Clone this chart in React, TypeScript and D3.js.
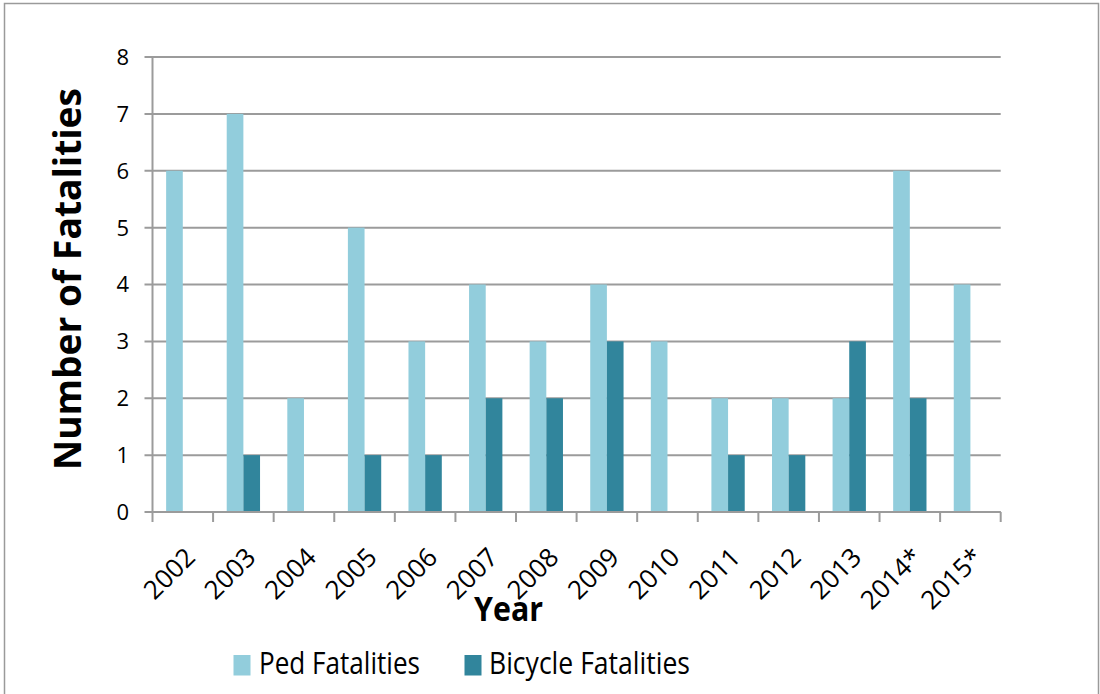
import React from "react";
import * as d3 from "d3";

const years = ["2002","2003","2004","2005","2006","2007","2008","2009","2010","2011","2012","2013","2014*","2015*"];
const pedFatalities = [6,7,2,5,3,4,3,4,3,2,2,2,6,4];
const bicycleFatalities = [0,1,0,1,1,2,2,3,0,1,1,3,2,0];
const seriesNames = ["Ped Fatalities","Bicycle Fatalities"];
const seriesColors = ["#92CDDC","#31859C"];
const yTicks = [0,1,2,3,4,5,6,7,8];

const FONT = "'Open Sans', 'Noto Sans', sans-serif";

export default function App() {
  const W = 1100, H = 694;
  const left = 152.5, right = 1000.7, top = 57, bottom = 512;
  const x0 = d3.scaleBand<string>().domain(years).range([left, right]).padding(0);
  const bw = x0.bandwidth();
  const x1 = d3.scaleBand<string>().domain(seriesNames).range([bw * 0.225, bw * 0.775]).padding(0);
  const y = d3.scaleLinear().domain([0, 8]).range([bottom, top]);
  const data = [pedFatalities, bicycleFatalities];

  return (
    <svg width={W} height={H} style={{ position: "absolute", left: 0, top: 0, display: "block" }}>
      <rect x={4.5} y={3.5} width={1094} height={700} fill="#fff" stroke="#9a9a9a" strokeWidth={1.5} />
      {yTicks.map(t => (
        <g key={"g" + t}>
          <line x1={left - 8} x2={right} y1={y(t)} y2={y(t)} stroke="#9b9b9b" strokeWidth={2} />
          <text x={129} y={y(t)} dy="0.36em" textAnchor="end" fontFamily={FONT} fontSize={22} fill="#000">{t}</text>
        </g>
      ))}
      <line x1={left} x2={left} y1={top} y2={bottom} stroke="#9b9b9b" strokeWidth={2} />
      {data.map((vals, si) =>
        vals.map((v, i) => v > 0 ? (
          <rect key={si + "-" + i}
            x={(x0(years[i]) as number) + (x1(seriesNames[si]) as number)}
            y={y(v)} width={x1.bandwidth()} height={y(0) - y(v)}
            fill={seriesColors[si]} />
        ) : null)
      )}
      <line x1={left} x2={right} y1={bottom} y2={bottom} stroke="#9b9b9b" strokeWidth={2} />
      {years.concat([""]).map((yr, i) => {
        const xx = left + i * bw;
        return <line key={"t" + i} x1={xx} x2={xx} y1={bottom} y2={bottom + 10} stroke="#9b9b9b" strokeWidth={2} />;
      })}
      {years.map((yr, i) => {
        const cx = (x0(yr) as number) + bw / 2 + 1;
        const cy = 546;
        return (
          <text key={"xl" + i} transform={`translate(${cx},${cy}) rotate(-45)`} textAnchor="end" dy="0.7em"
            fontFamily={FONT} fontSize={26} fill="#000">{yr}</text>
        );
      })}
      <text transform={`translate(81,279) rotate(-90)`} textAnchor="middle" fontFamily={FONT} fontWeight="bold"
        fontSize={37} textLength={382} lengthAdjust="spacingAndGlyphs" fill="#000">Number of Fatalities</text>
      <text x={508.5} y={621} textAnchor="middle" fontFamily={FONT} fontWeight="bold" fontSize={34}
        textLength={69} lengthAdjust="spacingAndGlyphs" fill="#000">Year</text>
      <rect x={233.5} y={655} width={17} height={20.5} fill={seriesColors[0]} />
      <text x={259} y={674} fontFamily={FONT} fontSize={31} textLength={161} lengthAdjust="spacingAndGlyphs" fill="#000">{seriesNames[0]}</text>
      <rect x={464.5} y={655} width={17} height={20.5} fill={seriesColors[1]} />
      <text x={489} y={674} fontFamily={FONT} fontSize={31} textLength={201} lengthAdjust="spacingAndGlyphs" fill="#000">{seriesNames[1]}</text>
    </svg>
  );
}
